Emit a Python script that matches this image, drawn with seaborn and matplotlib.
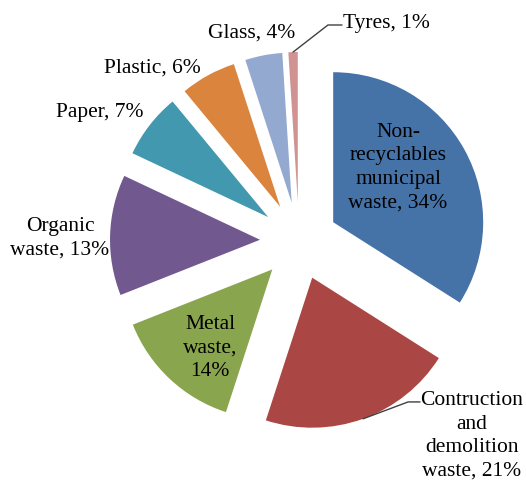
import numpy as np
import matplotlib
matplotlib.use("Agg")
import matplotlib.pyplot as plt
import seaborn as sns

# ----------------------------
# data
# ----------------------------
categories = ["Non-recyclables municipal waste", "Contruction and demolition waste",
              "Metal waste", "Organic waste", "Paper", "Plastic", "Glass", "Tyres"]
shares = [34, 21, 14, 13, 7, 6, 4, 1]
label_texts = ["Non-\nrecyclables\nmunicipal\nwaste, 34%",
               "Contruction\nand\ndemolition\nwaste, 21%",
               "Metal\nwaste,\n14%",
               "Organic\nwaste, 13%",
               "Paper, 7%",
               "Plastic, 6%",
               "Glass, 4%",
               "Tyres, 1%"]
slice_colors = ["#4572A7", "#AA4643", "#89A54E", "#71588F",
                "#4198AF", "#DB843D", "#93A9CF", "#D19392"]

# ----------------------------
# layout (label positions in pie-radius units)
# ----------------------------
label_pos = [(0.66, 0.49), (1.153, -1.30), (-0.593, -0.713), (-1.593, 0.02),
             (-1.33, 0.86), (-0.98, 1.153), (-0.313, 1.387), (0.58, 1.453)]
# leader elbows for labels that sit away from their slice
leader_elbow = {1: [(0.807, -1.073), (0.727, -1.073)],
                7: [(0.287, 1.44), (0.193, 1.44)]}

sns.set_theme(style="white")
plt.rcParams['font.family'] = ['Liberation Serif', 'DejaVu Serif']

fig = plt.figure(figsize=(5.26, 4.8), dpi=100)
ax = fig.add_axes([0, 0, 1, 1])

palette = sns.color_palette(slice_colors)
wedges, _ = ax.pie(shares, colors=palette, startangle=90, counterclock=False,
                   explode=[0.26] * len(shares), radius=1,
                   wedgeprops=dict(linewidth=0))

for i, (txt, (x, y)) in enumerate(zip(label_texts, label_pos)):
    ax.text(x, y, txt, ha="center", va="center", fontsize=15.5,
            linespacing=1.33, color="black")
    if i in leader_elbow:
        w = wedges[i]
        mid = np.deg2rad((w.theta1 + w.theta2) / 2)
        cx, cy = w.center
        px, py = cx + w.r * np.cos(mid), cy + w.r * np.sin(mid)
        pts = leader_elbow[i] + [(px, py)]
        ax.plot([p[0] for p in pts], [p[1] for p in pts], color="#404040", lw=1)

ax.set_xlim(-299 / 150, (526 - 299) / 150)
ax.set_ylim(-239 / 150, 241 / 150)
ax.set_aspect("auto")
ax.axis("off")

fig.savefig("out.png", dpi=100, facecolor="white")
